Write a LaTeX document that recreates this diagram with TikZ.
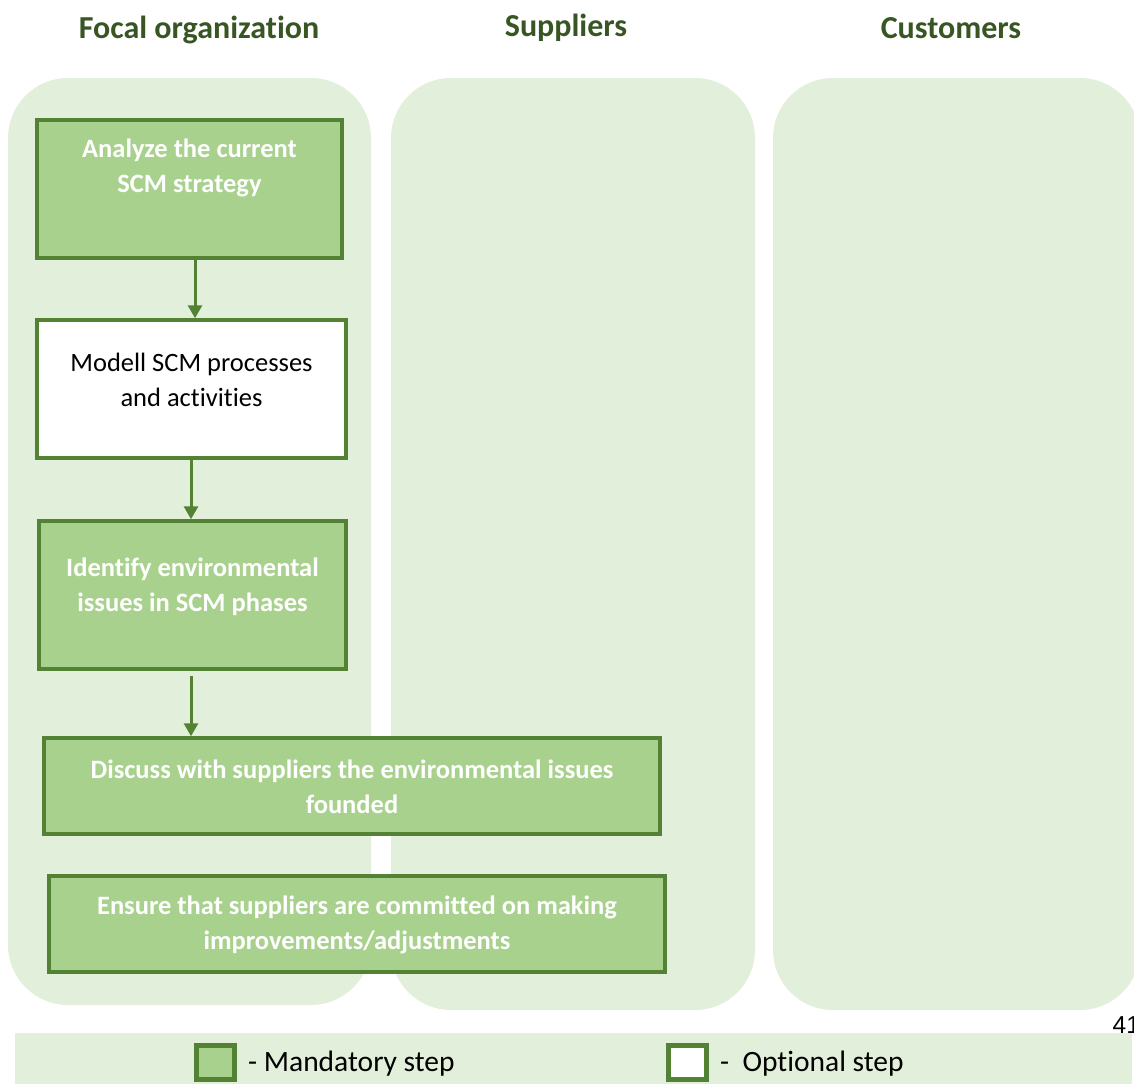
\documentclass[tikz,border=0pt]{standalone}
\usepackage{fontspec}
\setmainfont{Carlito}[Ligatures=NoCommon]
\newfontfamily\pagenumfont{Liberation Sans}
\usetikzlibrary{arrows.meta}
\definecolor{lanebg}{HTML}{E2EFDA}
\definecolor{stepfill}{HTML}{A9D18E}
\definecolor{stepline}{HTML}{548235}
\definecolor{headgreen}{HTML}{375623}
\tikzset{
  lane/.style={fill=lanebg, draw=none, rounded corners=60pt},
  stepbox/.style={draw=stepline, line width=3.5pt, inner sep=0pt},
  mandbox/.style={stepbox, fill=stepfill},
  optbox/.style={stepbox, fill=white},
  mandtxt/.style={text=white, font=\fontsize{26.5}{35}\selectfont\bfseries, align=center, inner sep=0pt},
  opttxt/.style={text=black, font=\fontsize{26.5}{35}\selectfont, align=center, inner sep=0pt},
  header/.style={text=headgreen, font=\fontsize{32}{36}\selectfont\bfseries, inner sep=0pt},
  flow/.style={draw=stepline, line width=3pt, -{Triangle[width=14pt,length=13pt]}},
  keybox/.style={draw=stepline, line width=5pt, minimum width=38pt, minimum height=34pt, inner sep=0pt},
  keytxt/.style={text=black, font=\fontsize{29.5}{32}\selectfont, inner sep=0pt, anchor=west}
}
\begin{document}
\begin{tikzpicture}[x=1pt, y=-1pt]
\useasboundingbox (0,0) rectangle (1134,1084);

% swimlane headers
\node[header] (hfocal) at (199,30) {Focal organization};
\node[header] (hsupp) at (566,28) {Suppliers};
\node[header] (hcust) at (951,28) {Customers};

% swimlanes
\fill[lane] (8,78) rectangle (371,1005);
\fill[lane] (391,78) rectangle (755,1010);
\fill[lane] (773,78) rectangle (1140,1010);

% page number, running off the right margin
\node[anchor=base west, inner sep=0pt, font=\pagenumfont\fontsize{24.5}{26}\selectfont] (pgno) at (1112.5,1033) {41};

% legend band
\fill[lanebg] (15,1033) rectangle (1132,1084);

% process steps
\node[mandbox, minimum width=305pt, minimum height=138pt] (b1) at (189.5,189) {};
\node[mandtxt] (t1) at (189.5,168) {Analyze the current\\SCM strategy};

\node[optbox, minimum width=309pt, minimum height=138pt] (b2) at (191.5,389) {};
\node[opttxt] (t2) at (191.5,379.5) {Modell SCM processes\\and activities};

\node[mandbox, minimum width=307pt, minimum height=148pt] (b3) at (192.5,595) {};
\node[mandtxt] (t3) at (192.5,587) {Identify environmental\\issues in SCM phases};

\node[mandbox, minimum width=616pt, minimum height=96pt] (b4) at (352,786) {};
\node[mandtxt] (t4) at (352,786.5) {Discuss with suppliers the environmental issues\\founded};

\node[mandbox, minimum width=616pt, minimum height=96pt] (b5) at (357,924) {};
\node[mandtxt] (t5) at (357,925) {Ensure that suppliers are committed on making\\improvements/adjustments};

% flow arrows
\draw[flow] ([xshift=5.5pt]b1.south) -- ([xshift=3.5pt]b2.north);
\draw[flow] ([xshift=-0.5pt]b2.south) -- ([xshift=-1.5pt]b3.north);
\draw[flow] ([shift={(-1.5,5)}]b3.south) -- ([xshift=-161pt]b4.north);

% legend
\node[keybox, fill=stepfill] (kmand) at (215.5,1062) {};
\node[keytxt] (lmand) at (248,1064) {- Mandatory step};
\node[keybox, fill=white] (kopt) at (687,1062) {};
\node[keytxt] (lopt) at (720,1064) {-\ \ Optional step};
\end{tikzpicture}
\end{document}
